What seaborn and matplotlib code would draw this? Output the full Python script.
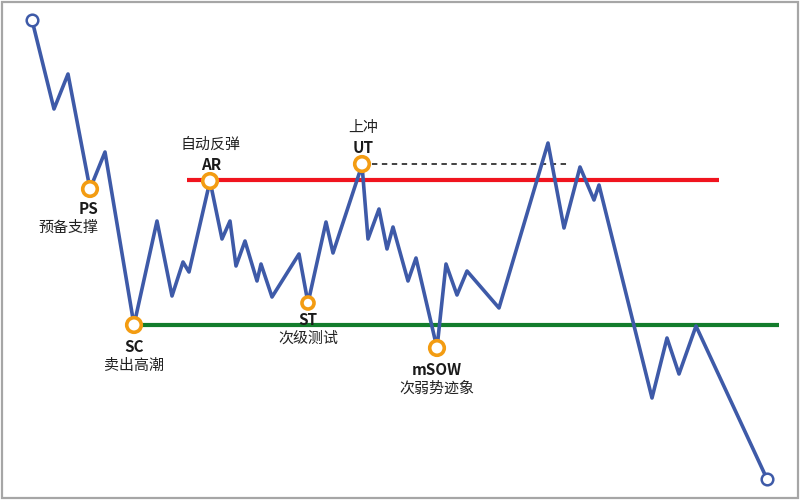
import matplotlib
matplotlib.use("Agg")
import matplotlib.pyplot as plt
import seaborn as sns
import pandas as pd
from matplotlib.patches import Rectangle

# ---- data (time index, price) ----
t = [32, 54, 68, 90, 105, 134, 157, 172, 183, 189, 210, 222, 230, 236, 245, 257, 261,
     272, 299, 308, 326, 333, 362, 368, 379, 387, 393, 408, 416, 437, 446, 457, 467,
     499, 548, 564, 580, 594, 599, 652, 667, 679, 696, 767]
p = [481, 392, 427, 312, 349, 176, 280, 205, 239, 229, 320, 262, 280, 235, 260, 220, 237,
     204, 247, 198, 279, 248, 336, 262, 292, 252, 274, 220, 243, 153, 237, 206, 230,
     193, 358, 273, 334, 301, 316, 103, 163, 127, 175, 22]

resistance = 321
support = 176
res_span = [187, 719]
sup_span = [134, 779]
ut_level = 337
ut_span = [362, 567]

event_t = [90, 134, 210, 308, 362, 437]
event_p = [312, 176, 320, 198, 337, 153]
event_code = ["PS", "SC", "AR", "ST", "UT", "mSOW"]
event_name = ["预备支撑", "卖出高潮", "自动反弹", "次级测试", "上冲", "次弱势迹象"]
event_above = [False, False, True, False, True, False]

sns.set_theme(style="white")
plt.rcParams['font.family'] = ['Noto Sans CJK SC', 'DejaVu Sans']

fig = plt.figure(figsize=(8, 5.02), dpi=100)
ax = fig.add_axes([0, 0, 1, 1])
ax.set_xlim(0, 800)
ax.set_ylim(0, 502)
ax.axis("off")

fig.patches.append(Rectangle((0.003, 0.005), 0.994, 0.99, transform=fig.transFigure,
                             fill=False, edgecolor="#a6a6a6", linewidth=1.6))

blue = "#3e5aa8"
ax.hlines(resistance, res_span[0], res_span[1], color="#f0141e", linewidth=3, zorder=2)
ax.hlines(support, sup_span[0], sup_span[1], color="#137d2c", linewidth=3, zorder=2)
ax.hlines(ut_level, ut_span[0], ut_span[1], color="#333333", linewidth=1.3,
          linestyles=(0, (3, 2.5)), zorder=2)

df = pd.DataFrame({"t": t, "p": p})
sns.lineplot(data=df, x="t", y="p", sort=False, ax=ax, color=blue, linewidth=2.6,
             zorder=3, legend=False)
ax.set_xlabel("")
ax.set_ylabel("")

ax.scatter([t[0], t[-1]], [p[0], p[-1]], s=70, facecolor="white", edgecolor=blue,
           linewidth=1.8, zorder=4)

sizes = [110, 110, 110, 75, 110, 110]
ax.scatter(event_t, event_p, s=sizes, facecolor="white", edgecolor="#f39c12",
           linewidth=2.6, zorder=5)

for x, y, code, name, above in zip(event_t, event_p, event_code, event_name, event_above):
    if above:
        ax.text(x + 1, y + 17, code, ha="center", va="center", fontsize=11, fontweight="bold",
                color="#1a1a1a", zorder=6)
        ax.text(x + 1, y + 37, name, ha="center", va="center", fontsize=10.8,
                color="#222222", zorder=6)
    elif code == "PS":
        ax.text(x + 8, y - 19, code, ha="right", va="center", fontsize=11,
                fontweight="bold", color="#1a1a1a", zorder=6)
        ax.text(x + 8, y - 38, name, ha="right", va="center", fontsize=10.8,
                color="#222222", zorder=6)
    else:
        ax.text(x, y - 21 if code != "ST" else y - 16, code, ha="center", va="center",
                fontsize=11, fontweight="bold", color="#1a1a1a", zorder=6)
        ax.text(x, y - 40 if code != "ST" else y - 35, name, ha="center", va="center",
                fontsize=10.8, color="#222222", zorder=6)

fig.savefig("out.png", dpi=100)
